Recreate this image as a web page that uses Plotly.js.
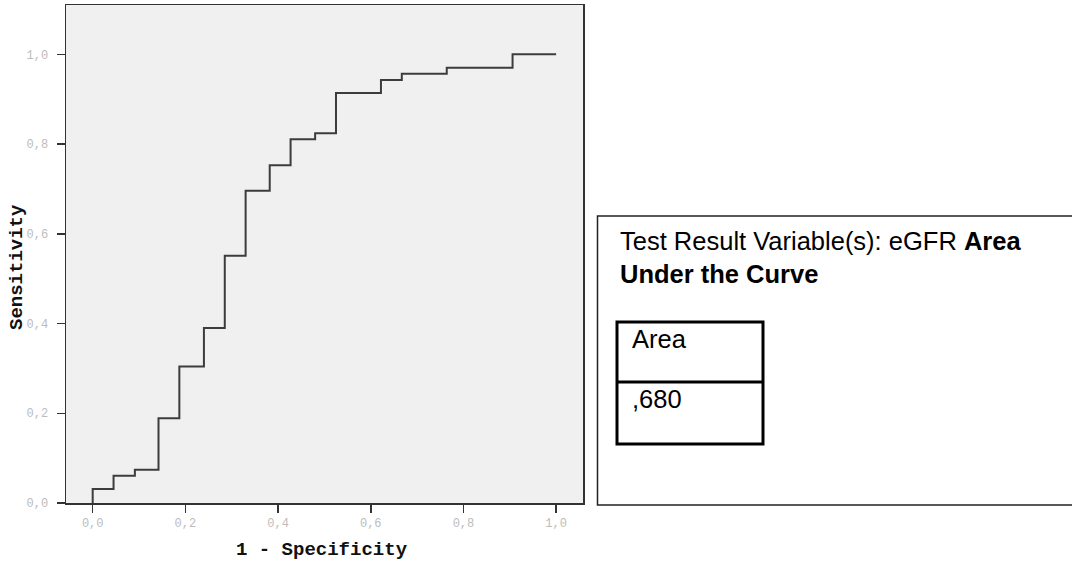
<!DOCTYPE html>
<html>
<head>
<meta charset="utf-8">
<script src="https://cdn.plot.ly/plotly-3.0.1.min.js"></script>
<style>html,body{margin:0;padding:0;background:#fff;}#chart{width:1072px;height:567px;}</style>
</head>
<body>
<div id="chart"></div>
<script>
// ROC curve corner points (1 - specificity, sensitivity)
const fpr = [0, 0, 0.045, 0.091, 0.142, 0.187, 0.240, 0.285, 0.330, 0.382, 0.427, 0.480, 0.525, 0.622, 0.667, 0.764, 0.906, 1.0];
const tpr = [0, 0.031, 0.061, 0.074, 0.189, 0.304, 0.390, 0.551, 0.696, 0.753, 0.811, 0.824, 0.914, 0.943, 0.957, 0.970, 1.0, 1.0];
const tickValues = [0, 0.2, 0.4, 0.6, 0.8, 1.0];
const tickLabels = ["0,0", "0,2", "0,4", "0,6", "0,8", "1,0"];
const xTitle = "1 - Specificity";
const yTitle = "Sensitivity";
const testVariable = "eGFR";
const tableHeader = "Area";
const areaValue = ",680";

const W = 1072, H = 567;
const M = {l: 66, r: 489, t: 5, b: 64};
const pw = W - M.l - M.r, ph = H - M.t - M.b;
const px = v => (v - M.l) / pw;   // pixel x -> paper
const py = v => (H - M.b - v) / ph; // pixel y -> paper

const trace = {
  x: fpr, y: tpr, type: 'scatter', mode: 'lines',
  line: {shape: 'hv', color: '#3c3c3c', width: 2},
  hoverinfo: 'skip', showlegend: false, cliponaxis: false
};

const tickFont = {family: 'Liberation Mono, monospace', size: 12, color: '#bcbcbc'};
const titleFont = {family: 'Liberation Mono, monospace', size: 19, color: '#111'};
const txtFont = {family: 'Liberation Sans, Arial, sans-serif', size: 25.5, color: '#000'};

const layout = {
  width: W, height: H,
  margin: M,
  paper_bgcolor: '#ffffff', plot_bgcolor: '#f0f0f0',
  separators: ', ',
  showlegend: false,
  xaxis: {
    range: [-0.0576, 1.058], tickvals: tickValues, ticktext: tickLabels,
    ticks: 'outside', ticklen: 8, tickwidth: 1.5, tickcolor: '#333',
    showline: true, mirror: true, linecolor: '#333', linewidth: 1.5,
    showgrid: false, zeroline: false, tickfont: tickFont, fixedrange: true
  },
  yaxis: {
    range: [0, 1.11], tickvals: tickValues, ticktext: tickLabels,
    ticks: 'outside', ticklen: 8, tickwidth: 1.5, tickcolor: '#333',
    ticklabelstandoff: 6,
    showline: true, mirror: true, linecolor: '#333', linewidth: 1.5,
    showgrid: false, zeroline: false, tickfont: tickFont, fixedrange: true
  },
  annotations: [
    {text: '<b>' + xTitle + '</b>', xref: 'paper', yref: 'paper', x: px(322), y: py(550),
     xanchor: 'center', yanchor: 'middle', showarrow: false, font: titleFont},
    {text: '<b>' + yTitle + '</b>', xref: 'paper', yref: 'paper', x: px(17), y: py(267),
     xanchor: 'center', yanchor: 'middle', textangle: -90, showarrow: false, font: titleFont},
    {text: 'Test Result Variable(s): ' + testVariable + ' <b>Area</b>', xref: 'paper', yref: 'paper',
     x: px(618), y: py(241), xanchor: 'left', yanchor: 'middle', showarrow: false, font: txtFont},
    {text: '<b>Under the Curve</b>', xref: 'paper', yref: 'paper',
     x: px(618), y: py(274), xanchor: 'left', yanchor: 'middle', showarrow: false, font: txtFont},
    {text: tableHeader, xref: 'paper', yref: 'paper',
     x: px(629.5), y: py(339), xanchor: 'left', yanchor: 'middle', showarrow: false, font: txtFont},
    {text: areaValue, xref: 'paper', yref: 'paper',
     x: px(629.5), y: py(399), xanchor: 'left', yanchor: 'middle', showarrow: false, font: txtFont}
  ],
  shapes: [
    {type: 'rect', xref: 'paper', yref: 'paper', x0: px(597.5), x1: px(1080), y0: py(216), y1: py(505),
     line: {color: '#222', width: 1.5}, fillcolor: 'rgba(0,0,0,0)'},
    {type: 'rect', xref: 'paper', yref: 'paper', x0: px(617), x1: px(763), y0: py(322), y1: py(444),
     line: {color: '#000', width: 3}, fillcolor: 'rgba(0,0,0,0)'},
    {type: 'line', xref: 'paper', yref: 'paper', x0: px(617), x1: px(763), y0: py(382), y1: py(382),
     line: {color: '#000', width: 3}}
  ]
};

Plotly.newPlot('chart', [trace], layout, {staticPlot: true, displayModeBar: false});
</script>
</body>
</html>
